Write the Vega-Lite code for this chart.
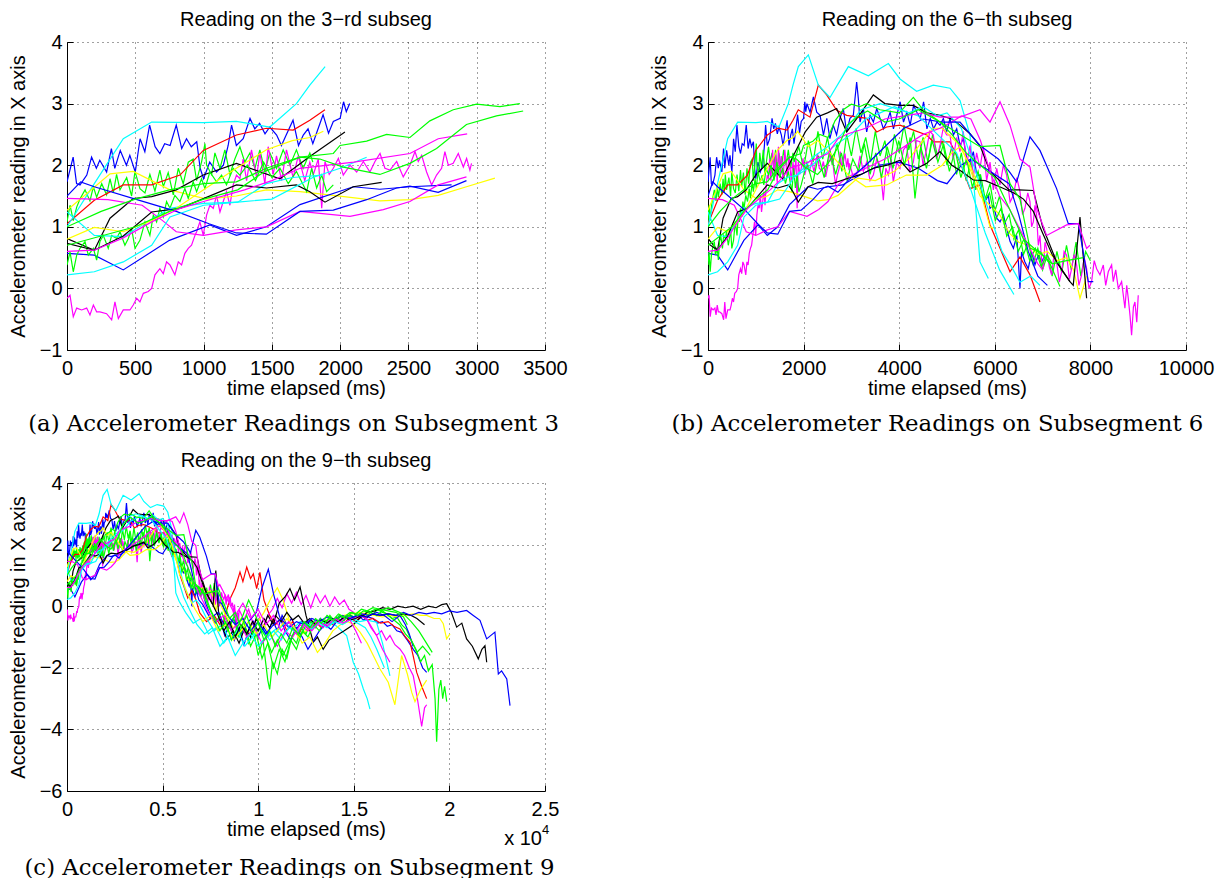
{
"$schema":"https://vega.github.io/schema/vega-lite/v6.json",
"background":"white",
"padding":{"left":8,"top":10,"right":5,"bottom":2},
"config":{
 "view":{"stroke":null},
 "font":"Liberation Sans",
 "title":{"font":"Liberation Sans","fontSize":20,"fontWeight":"normal","color":"#000000","frame":"group","anchor":"middle"},
 "axis":{"domainColor":"#000000","domainWidth":1,"tickColor":"#000000","tickWidth":1,"tickSize":-6,"labelFont":"Liberation Sans","labelFontSize":20,"labelColor":"#000000","titleFont":"Liberation Sans","titleFontSize":20,"titleFontWeight":"normal","titleColor":"#000000","grid":true,"gridColor":"#000000","gridOpacity":0.75,"gridDash":[1,4],"gridWidth":1,"labelFlush":false,"labelOverlap":false},
 "axisX":{"labelPadding":14,"titleBaseline":"alphabetic","titleY":44,"titleX":239},
 "axisY":{"labelPadding":11,"titleBaseline":"alphabetic","titleX":-43,"titleY":154}
},
"datasets":{
"ends":[
{"r":"B1","e3":2070,"e6":7050},{"r":"B2","e3":2816,"e6":7100},{"r":"B3","e3":2925,"e6":8060},
{"r":"G1","e3":1800,"e6":8000},{"r":"G2","e3":1950,"e6":7200},{"r":"G3","e3":3316,"e6":7363},{"r":"G4","e3":3340,"e6":7850},
{"r":"R1","e3":1889,"e6":6945},
{"r":"C1","e3":1890,"e6":5865},{"r":"C2","e3":1870,"e6":6944},{"r":"C3","e3":2194,"e6":6400},
{"r":"M1","e3":2962,"e6":9001},{"r":"M2","e3":2925,"e6":7000},{"r":"M3","e3":2930,"e6":7990},
{"r":"Y1","e3":3133,"e6":7921},{"r":"Y2","e3":1877,"e6":5969},
{"r":"K1","e3":2035,"e6":7921},{"r":"K2","e3":2304,"e6":7572}
],
"runs":[
{"r":"B1","t":0,"v":1.73},{"r":"B1","t":45,"v":2.13},{"r":"B1","t":70,"v":1.70},{"r":"B1","t":95,"v":1.68},{"r":"B1","t":145,"v":1.84},{"r":"B1","t":180,"v":2.13},{"r":"B1","t":215,"v":1.95},{"r":"B1","t":240,"v":2.08},{"r":"B1","t":290,"v":1.89},{"r":"B1","t":325,"v":2.27},{"r":"B1","t":350,"v":1.95},{"r":"B1","t":390,"v":2.24},{"r":"B1","t":435,"v":2.00},{"r":"B1","t":460,"v":2.16},{"r":"B1","t":500,"v":1.89},{"r":"B1","t":535,"v":2.43},{"r":"B1","t":570,"v":2.22},{"r":"B1","t":605,"v":2.65},{"r":"B1","t":645,"v":2.30},{"r":"B1","t":680,"v":2.19},{"r":"B1","t":715,"v":2.35},{"r":"B1","t":755,"v":2.32},{"r":"B1","t":800,"v":2.65},{"r":"B1","t":840,"v":2.27},{"r":"B1","t":875,"v":2.43},{"r":"B1","t":910,"v":2.30},{"r":"B1","t":950,"v":2.38},{"r":"B1","t":975,"v":1.95},{"r":"B1","t":1000,"v":1.78},{"r":"B1","t":1045,"v":2.05},{"r":"B1","t":1095,"v":1.89},{"r":"B1","t":1145,"v":2.00},{"r":"B1","t":1180,"v":2.32},{"r":"B1","t":1205,"v":2.65},{"r":"B1","t":1240,"v":2.32},{"r":"B1","t":1290,"v":2.43},{"r":"B1","t":1340,"v":2.76},{"r":"B1","t":1375,"v":2.59},{"r":"B1","t":1410,"v":2.68},{"r":"B1","t":1450,"v":2.51},{"r":"B1","t":1485,"v":2.62},{"r":"B1","t":1535,"v":2.49},{"r":"B1","t":1570,"v":2.32},{"r":"B1","t":1605,"v":2.49},{"r":"B1","t":1655,"v":2.73},{"r":"B1","t":1695,"v":2.32},{"r":"B1","t":1730,"v":2.49},{"r":"B1","t":1765,"v":2.59},{"r":"B1","t":1800,"v":2.35},{"r":"B1","t":1830,"v":2.54},{"r":"B1","t":1875,"v":2.82},{"r":"B1","t":1915,"v":2.52},{"r":"B1","t":1950,"v":2.71},{"r":"B1","t":2000,"v":2.76},{"r":"B1","t":2025,"v":3.03},{"r":"B1","t":2045,"v":2.87},{"r":"B1","t":2070,"v":3.00},
{"r":"B1","t":2135,"v":2.86},{"r":"B1","t":2205,"v":3.11},{"r":"B1","t":2275,"v":2.86},{"r":"B1","t":2345,"v":2.81},{"r":"B1","t":2415,"v":2.49},{"r":"B1","t":2485,"v":2.76},{"r":"B1","t":2550,"v":2.43},{"r":"B1","t":2620,"v":2.65},{"r":"B1","t":2690,"v":2.49},{"r":"B1","t":2760,"v":2.76},{"r":"B1","t":2830,"v":2.92},{"r":"B1","t":2900,"v":2.54},{"r":"B1","t":2970,"v":2.76},{"r":"B1","t":3040,"v":2.81},{"r":"B1","t":3110,"v":3.35},{"r":"B1","t":3145,"v":3.08},{"r":"B1","t":3180,"v":2.70},{"r":"B1","t":3250,"v":2.92},{"r":"B1","t":3320,"v":2.54},{"r":"B1","t":3390,"v":2.81},{"r":"B1","t":3460,"v":2.70},{"r":"B1","t":3530,"v":2.92},{"r":"B1","t":3600,"v":2.76},{"r":"B1","t":3670,"v":2.59},{"r":"B1","t":3740,"v":2.70},{"r":"B1","t":3810,"v":2.86},{"r":"B1","t":3880,"v":2.59},{"r":"B1","t":3950,"v":2.81},{"r":"B1","t":4020,"v":3.03},{"r":"B1","t":4090,"v":2.70},{"r":"B1","t":4160,"v":2.86},{"r":"B1","t":4230,"v":2.65},{"r":"B1","t":4300,"v":2.97},{"r":"B1","t":4370,"v":2.86},{"r":"B1","t":4440,"v":2.76},{"r":"B1","t":4510,"v":3.03},{"r":"B1","t":4580,"v":2.59},{"r":"B1","t":4650,"v":2.76},{"r":"B1","t":4720,"v":2.59},{"r":"B1","t":4790,"v":2.70},{"r":"B1","t":4854,"v":2.65},{"r":"B1","t":4924,"v":2.76},{"r":"B1","t":4993,"v":2.54},{"r":"B1","t":5063,"v":2.76},{"r":"B1","t":5133,"v":2.49},{"r":"B1","t":5203,"v":2.59},{"r":"B1","t":5272,"v":2.32},{"r":"B1","t":5342,"v":2.43},{"r":"B1","t":5412,"v":2.11},{"r":"B1","t":5481,"v":2.05},{"r":"B1","t":5551,"v":2.22},{"r":"B1","t":5621,"v":1.84},{"r":"B1","t":5690,"v":1.84},{"r":"B1","t":5725,"v":1.57},{"r":"B1","t":5795,"v":1.41},{"r":"B1","t":5865,"v":1.51},{"r":"B1","t":5900,"v":1.30},{"r":"B1","t":5970,"v":1.35},{"r":"B1","t":6040,"v":1.14},{"r":"B1","t":6110,"v":1.08},{"r":"B1","t":6180,"v":1.19},{"r":"B1","t":6250,"v":0.97},{"r":"B1","t":6320,"v":0.76},{"r":"B1","t":6390,"v":0.65},{"r":"B1","t":6460,"v":0.86},{"r":"B1","t":6527,"v":0.00},{"r":"B1","t":6560,"v":0.59},{"r":"B1","t":6630,"v":0.43},{"r":"B1","t":6700,"v":0.32},{"r":"B1","t":6770,"v":0.59},{"r":"B1","t":6840,"v":0.38},{"r":"B1","t":6910,"v":0.54},{"r":"B1","t":6980,"v":0.43},{"r":"B1","t":7050,"v":0.54},
{"r":"B1","t":7250,"v":0.10},{"r":"B1","t":7500,"v":-0.30},{"r":"B1","t":7750,"v":-0.55},{"r":"B1","t":8000,"v":-0.40},{"r":"B1","t":8250,"v":-0.95},{"r":"B1","t":8500,"v":-0.60},{"r":"B1","t":8750,"v":-1.10},{"r":"B1","t":9000,"v":-0.70},{"r":"B1","t":9250,"v":-1.25},{"r":"B1","t":9500,"v":-0.80},{"r":"B1","t":9750,"v":-0.50},{"r":"B1","t":10000,"v":-1.00},{"r":"B1","t":10250,"v":-0.65},{"r":"B1","t":10500,"v":-0.90},{"r":"B1","t":10750,"v":-0.45},{"r":"B1","t":11000,"v":-0.80},{"r":"B1","t":11250,"v":-0.30},{"r":"B1","t":11500,"v":-0.60},{"r":"B1","t":11750,"v":-0.40},{"r":"B1","t":12000,"v":-0.75},{"r":"B1","t":12250,"v":-0.50},{"r":"B1","t":12500,"v":-0.65},{"r":"B1","t":12750,"v":-0.45},{"r":"B1","t":13000,"v":-0.60},{"r":"B1","t":13250,"v":-0.40},{"r":"B1","t":13500,"v":-0.55},{"r":"B1","t":13750,"v":-0.35},{"r":"B1","t":14000,"v":-0.50},{"r":"B1","t":14250,"v":-0.30},{"r":"B1","t":14500,"v":-0.45},{"r":"B1","t":14750,"v":-0.25},{"r":"B1","t":15000,"v":-0.40},{"r":"B1","t":15250,"v":-0.30},{"r":"B1","t":15500,"v":-0.45},{"r":"B1","t":15750,"v":-0.35},{"r":"B1","t":16000,"v":-0.40},{"r":"B1","t":16250,"v":-0.55},{"r":"B1","t":16500,"v":-0.50},{"r":"B1","t":16750,"v":-0.65},{"r":"B1","t":17000,"v":-0.60},{"r":"B1","t":17250,"v":-0.80},{"r":"B1","t":17500,"v":-0.85},{"r":"B1","t":17800,"v":-1.10},{"r":"B1","t":18110,"v":-1.40},{"r":"B1","t":18350,"v":-1.60},{"r":"B1","t":18600,"v":-2.00},{"r":"B1","t":18810,"v":-2.15},

{"r":"G1","t":0,"v":1.08},{"r":"G1","t":22,"v":1.35},{"r":"G1","t":46,"v":1.10},{"r":"G1","t":71,"v":1.32},{"r":"G1","t":95,"v":1.45},{"r":"G1","t":132,"v":1.60},{"r":"G1","t":168,"v":1.42},{"r":"G1","t":193,"v":1.65},{"r":"G1","t":217,"v":1.48},{"r":"G1","t":254,"v":1.70},{"r":"G1","t":290,"v":1.52},{"r":"G1","t":315,"v":1.78},{"r":"G1","t":339,"v":1.55},{"r":"G1","t":363,"v":1.85},{"r":"G1","t":388,"v":1.60},{"r":"G1","t":437,"v":1.80},{"r":"G1","t":473,"v":1.50},{"r":"G1","t":498,"v":1.90},{"r":"G1","t":534,"v":1.62},{"r":"G1","t":571,"v":1.55},{"r":"G1","t":607,"v":1.85},{"r":"G1","t":644,"v":1.58},{"r":"G1","t":680,"v":1.92},{"r":"G1","t":705,"v":1.65},{"r":"G1","t":741,"v":1.88},{"r":"G1","t":778,"v":1.52},{"r":"G1","t":815,"v":1.95},{"r":"G1","t":851,"v":1.70},{"r":"G1","t":888,"v":2.05},{"r":"G1","t":924,"v":2.10},{"r":"G1","t":949,"v":1.75},{"r":"G1","t":985,"v":2.05},{"r":"G1","t":1010,"v":2.35},{"r":"G1","t":1022,"v":2.00},{"r":"G1","t":1059,"v":1.85},{"r":"G1","t":1083,"v":2.20},{"r":"G1","t":1120,"v":1.95},{"r":"G1","t":1156,"v":2.25},{"r":"G1","t":1193,"v":1.85},{"r":"G1","t":1229,"v":2.10},{"r":"G1","t":1266,"v":2.30},{"r":"G1","t":1302,"v":2.05},{"r":"G1","t":1339,"v":2.20},{"r":"G1","t":1376,"v":1.95},{"r":"G1","t":1412,"v":2.25},{"r":"G1","t":1449,"v":1.90},{"r":"G1","t":1485,"v":2.20},{"r":"G1","t":1534,"v":1.95},{"r":"G1","t":1583,"v":2.25},{"r":"G1","t":1632,"v":2.00},{"r":"G1","t":1680,"v":2.25},{"r":"G1","t":1729,"v":1.95},{"r":"G1","t":1778,"v":2.20},{"r":"G1","t":1800,"v":2.05},
{"r":"G1","t":1900,"v":2.30},{"r":"G1","t":2000,"v":1.95},{"r":"G1","t":2100,"v":2.40},{"r":"G1","t":2200,"v":2.05},{"r":"G1","t":2300,"v":2.55},{"r":"G1","t":2400,"v":2.10},{"r":"G1","t":2500,"v":2.45},{"r":"G1","t":2600,"v":2.00},{"r":"G1","t":2700,"v":2.35},{"r":"G1","t":2800,"v":1.90},{"r":"G1","t":2900,"v":2.50},{"r":"G1","t":3000,"v":2.15},{"r":"G1","t":3100,"v":2.60},{"r":"G1","t":3200,"v":2.20},{"r":"G1","t":3300,"v":2.45},{"r":"G1","t":3400,"v":2.05},{"r":"G1","t":3500,"v":2.55},{"r":"G1","t":3600,"v":2.15},{"r":"G1","t":3700,"v":2.40},{"r":"G1","t":3800,"v":1.95},{"r":"G1","t":3900,"v":2.50},{"r":"G1","t":4000,"v":2.20},{"r":"G1","t":4100,"v":2.65},{"r":"G1","t":4200,"v":2.25},{"r":"G1","t":4300,"v":2.55},{"r":"G1","t":4400,"v":2.10},{"r":"G1","t":4500,"v":2.45},{"r":"G1","t":4600,"v":2.05},{"r":"G1","t":4700,"v":2.50},{"r":"G1","t":4800,"v":2.15},{"r":"G1","t":4900,"v":2.40},{"r":"G1","t":5000,"v":2.00},{"r":"G1","t":5100,"v":2.30},{"r":"G1","t":5200,"v":1.85},{"r":"G1","t":5300,"v":2.20},{"r":"G1","t":5400,"v":1.75},{"r":"G1","t":5500,"v":2.05},{"r":"G1","t":5600,"v":1.60},{"r":"G1","t":5700,"v":1.85},{"r":"G1","t":5800,"v":1.45},{"r":"G1","t":5900,"v":1.70},{"r":"G1","t":6000,"v":1.25},{"r":"G1","t":6100,"v":1.50},{"r":"G1","t":6200,"v":1.05},{"r":"G1","t":6300,"v":1.20},{"r":"G1","t":6400,"v":0.80},{"r":"G1","t":6500,"v":0.95},{"r":"G1","t":6600,"v":0.55},{"r":"G1","t":6700,"v":0.75},{"r":"G1","t":6800,"v":0.40},{"r":"G1","t":6900,"v":0.65},{"r":"G1","t":7000,"v":0.30},{"r":"G1","t":7100,"v":0.55},{"r":"G1","t":7200,"v":0.20},{"r":"G1","t":7300,"v":0.60},{"r":"G1","t":7400,"v":0.25},{"r":"G1","t":7500,"v":0.70},{"r":"G1","t":7600,"v":0.30},{"r":"G1","t":7700,"v":0.75},{"r":"G1","t":7800,"v":0.20},{"r":"G1","t":7900,"v":0.60},{"r":"G1","t":8000,"v":0.45},
{"r":"G1","t":8250,"v":-0.20},{"r":"G1","t":8500,"v":-0.70},{"r":"G1","t":8750,"v":-0.30},{"r":"G1","t":9000,"v":-0.90},{"r":"G1","t":9250,"v":-0.50},{"r":"G1","t":9500,"v":-1.20},{"r":"G1","t":9750,"v":-0.80},{"r":"G1","t":10000,"v":-1.60},{"r":"G1","t":10250,"v":-1.10},{"r":"G1","t":10500,"v":-2.40},{"r":"G1","t":10600,"v":-2.70},{"r":"G1","t":10750,"v":-1.80},{"r":"G1","t":11000,"v":-2.20},{"r":"G1","t":11250,"v":-1.40},{"r":"G1","t":11500,"v":-1.70},{"r":"G1","t":11750,"v":-1.00},{"r":"G1","t":12000,"v":-1.20},{"r":"G1","t":12250,"v":-0.70},{"r":"G1","t":12500,"v":-0.90},{"r":"G1","t":12750,"v":-0.50},{"r":"G1","t":13000,"v":-0.70},{"r":"G1","t":13250,"v":-0.40},{"r":"G1","t":13500,"v":-0.60},{"r":"G1","t":13750,"v":-0.30},{"r":"G1","t":14000,"v":-0.50},{"r":"G1","t":14250,"v":-0.30},{"r":"G1","t":14500,"v":-0.45},{"r":"G1","t":14750,"v":-0.25},{"r":"G1","t":15000,"v":-0.35},{"r":"G1","t":15250,"v":-0.20},{"r":"G1","t":15500,"v":-0.30},{"r":"G1","t":15750,"v":-0.15},{"r":"G1","t":16000,"v":-0.25},{"r":"G1","t":16250,"v":-0.10},{"r":"G1","t":16500,"v":-0.20},{"r":"G1","t":16750,"v":-0.25},{"r":"G1","t":17000,"v":-0.40},{"r":"G1","t":17250,"v":-0.35},{"r":"G1","t":17500,"v":-0.60},{"r":"G1","t":17750,"v":-0.75},{"r":"G1","t":18000,"v":-1.10},{"r":"G1","t":18250,"v":-1.40},{"r":"G1","t":18500,"v":-1.80},{"r":"G1","t":18700,"v":-1.60},{"r":"G1","t":18900,"v":-2.10},{"r":"G1","t":19100,"v":-1.90},{"r":"G1","t":19250,"v":-3.00},{"r":"G1","t":19333,"v":-4.40},{"r":"G1","t":19450,"v":-2.70},{"r":"G1","t":19550,"v":-2.40},{"r":"G1","t":19650,"v":-3.00},{"r":"G1","t":19750,"v":-2.60},{"r":"G1","t":19860,"v":-3.10},

{"r":"R1","t":0,"v":1.05},{"r":"R1","t":200,"v":1.43},{"r":"R1","t":412,"v":1.68},{"r":"R1","t":620,"v":1.68},{"r":"R1","t":827,"v":1.84},{"r":"R1","t":998,"v":2.24},{"r":"R1","t":1241,"v":2.49},{"r":"R1","t":1460,"v":2.60},{"r":"R1","t":1656,"v":2.57},{"r":"R1","t":1778,"v":2.73},{"r":"R1","t":1889,"v":2.90},{"r":"R1","t":2134,"v":2.78},{"r":"R1","t":2308,"v":3.30},{"r":"R1","t":2483,"v":3.14},{"r":"R1","t":2692,"v":2.89},{"r":"R1","t":2901,"v":2.81},{"r":"R1","t":3319,"v":2.76},{"r":"R1","t":3529,"v":2.54},{"r":"R1","t":3738,"v":2.62},{"r":"R1","t":4017,"v":2.65},{"r":"R1","t":4296,"v":2.57},{"r":"R1","t":4575,"v":2.49},{"r":"R1","t":4714,"v":2.38},{"r":"R1","t":5063,"v":2.38},{"r":"R1","t":5272,"v":2.05},{"r":"R1","t":5481,"v":1.62},{"r":"R1","t":5690,"v":1.68},{"r":"R1","t":5900,"v":1.03},{"r":"R1","t":6109,"v":0.65},{"r":"R1","t":6318,"v":0.27},{"r":"R1","t":6527,"v":0.51},{"r":"R1","t":6736,"v":0.22},{"r":"R1","t":6945,"v":-0.22},{"r":"R1","t":7300,"v":-0.50},{"r":"R1","t":7700,"v":-0.30},{"r":"R1","t":8100,"v":-0.70},{"r":"R1","t":8500,"v":0.20},{"r":"R1","t":8800,"v":0.60},{"r":"R1","t":9048,"v":1.11},{"r":"R1","t":9200,"v":0.80},{"r":"R1","t":9400,"v":1.27},{"r":"R1","t":9600,"v":0.90},{"r":"R1","t":9745,"v":1.05},{"r":"R1","t":9920,"v":0.57},{"r":"R1","t":10090,"v":1.10},{"r":"R1","t":10300,"v":0.20},{"r":"R1","t":10600,"v":-0.30},{"r":"R1","t":10900,"v":-0.60},{"r":"R1","t":11200,"v":-0.40},{"r":"R1","t":11500,"v":-0.80},{"r":"R1","t":11800,"v":-0.50},{"r":"R1","t":12100,"v":-0.90},{"r":"R1","t":12400,"v":-0.60},{"r":"R1","t":12700,"v":-0.80},{"r":"R1","t":13000,"v":-0.50},{"r":"R1","t":13300,"v":-0.70},{"r":"R1","t":13600,"v":-0.45},{"r":"R1","t":13900,"v":-0.60},{"r":"R1","t":14200,"v":-0.40},{"r":"R1","t":14500,"v":-0.55},{"r":"R1","t":14800,"v":-0.35},{"r":"R1","t":15100,"v":-0.50},{"r":"R1","t":15400,"v":-0.30},{"r":"R1","t":15700,"v":-0.45},{"r":"R1","t":16000,"v":-0.40},{"r":"R1","t":16400,"v":-0.55},{"r":"R1","t":16800,"v":-0.50},{"r":"R1","t":17100,"v":-0.65},{"r":"R1","t":17410,"v":-0.74},{"r":"R1","t":17700,"v":-1.00},{"r":"R1","t":17940,"v":-1.17},{"r":"R1","t":18100,"v":-1.60},{"r":"R1","t":18290,"v":-2.15},{"r":"R1","t":18550,"v":-2.60},{"r":"R1","t":18810,"v":-3.00},

{"r":"C1","t":0,"v":1.00},{"r":"C1","t":200,"v":1.70},{"r":"C1","t":412,"v":2.43},{"r":"C1","t":620,"v":2.70},{"r":"C1","t":1000,"v":2.69},{"r":"C1","t":1240,"v":2.71},{"r":"C1","t":1485,"v":2.62},{"r":"C1","t":1680,"v":3.00},{"r":"C1","t":1778,"v":3.30},{"r":"C1","t":1890,"v":3.60},{"r":"C1","t":2099,"v":3.79},{"r":"C1","t":2308,"v":3.30},{"r":"C1","t":2552,"v":3.10},{"r":"C1","t":2936,"v":3.60},{"r":"C1","t":3354,"v":3.45},{"r":"C1","t":3773,"v":3.65},{"r":"C1","t":4017,"v":3.40},{"r":"C1","t":4365,"v":3.20},{"r":"C1","t":4714,"v":3.30},{"r":"C1","t":5063,"v":3.25},{"r":"C1","t":5272,"v":3.05},{"r":"C1","t":5481,"v":2.49},{"r":"C1","t":5690,"v":0.43},{"r":"C1","t":5865,"v":0.16},{"r":"C1","t":6200,"v":-0.20},{"r":"C1","t":6600,"v":-0.55},{"r":"C1","t":7000,"v":-0.40},{"r":"C1","t":7400,"v":-0.90},{"r":"C1","t":7800,"v":-0.70},{"r":"C1","t":8200,"v":-1.20},{"r":"C1","t":8600,"v":-0.85},{"r":"C1","t":9000,"v":-1.00},{"r":"C1","t":9400,"v":-0.60},{"r":"C1","t":9800,"v":-0.95},{"r":"C1","t":10200,"v":-0.70},{"r":"C1","t":10600,"v":-1.10},{"r":"C1","t":11000,"v":-0.80},{"r":"C1","t":11400,"v":-0.55},{"r":"C1","t":11800,"v":-0.75},{"r":"C1","t":12200,"v":-0.50},{"r":"C1","t":12600,"v":-0.70},{"r":"C1","t":13000,"v":-0.45},{"r":"C1","t":13400,"v":-0.60},{"r":"C1","t":13800,"v":-0.50},{"r":"C1","t":14200,"v":-0.70},{"r":"C1","t":14625,"v":-0.95},{"r":"C1","t":14970,"v":-1.82},{"r":"C1","t":15250,"v":-2.20},{"r":"C1","t":15500,"v":-2.69},{"r":"C1","t":15700,"v":-3.00},{"r":"C1","t":15845,"v":-3.34},

{"r":"M1","t":0,"v":-0.16},{"r":"M1","t":22,"v":-0.11},{"r":"M1","t":46,"v":-0.46},{"r":"M1","t":71,"v":-0.32},{"r":"M1","t":107,"v":-0.35},{"r":"M1","t":144,"v":-0.32},{"r":"M1","t":168,"v":-0.43},{"r":"M1","t":193,"v":-0.27},{"r":"M1","t":217,"v":-0.38},{"r":"M1","t":241,"v":-0.38},{"r":"M1","t":290,"v":-0.41},{"r":"M1","t":327,"v":-0.51},{"r":"M1","t":351,"v":-0.22},{"r":"M1","t":376,"v":-0.49},{"r":"M1","t":412,"v":-0.35},{"r":"M1","t":461,"v":-0.35},{"r":"M1","t":485,"v":-0.27},{"r":"M1","t":510,"v":-0.16},{"r":"M1","t":534,"v":-0.22},{"r":"M1","t":559,"v":-0.08},{"r":"M1","t":595,"v":-0.05},{"r":"M1","t":620,"v":0.00},{"r":"M1","t":644,"v":0.22},{"r":"M1","t":680,"v":0.32},{"r":"M1","t":705,"v":0.24},{"r":"M1","t":729,"v":0.43},{"r":"M1","t":754,"v":0.38},{"r":"M1","t":790,"v":0.22},{"r":"M1","t":815,"v":0.43},{"r":"M1","t":839,"v":0.38},{"r":"M1","t":863,"v":0.57},{"r":"M1","t":888,"v":0.65},{"r":"M1","t":912,"v":0.70},{"r":"M1","t":937,"v":0.86},{"r":"M1","t":949,"v":0.92},{"r":"M1","t":973,"v":1.08},{"r":"M1","t":998,"v":0.86},{"r":"M1","t":1022,"v":1.19},{"r":"M1","t":1046,"v":1.35},{"r":"M1","t":1071,"v":1.30},{"r":"M1","t":1095,"v":1.51},{"r":"M1","t":1120,"v":1.24},{"r":"M1","t":1144,"v":1.41},{"r":"M1","t":1168,"v":1.57},{"r":"M1","t":1193,"v":1.35},{"r":"M1","t":1217,"v":1.68},{"r":"M1","t":1241,"v":1.84},{"r":"M1","t":1266,"v":1.78},{"r":"M1","t":1290,"v":2.10},{"r":"M1","t":1315,"v":1.75},{"r":"M1","t":1351,"v":2.25},{"r":"M1","t":1388,"v":1.80},{"r":"M1","t":1412,"v":2.20},{"r":"M1","t":1449,"v":1.70},{"r":"M1","t":1473,"v":2.30},{"r":"M1","t":1510,"v":1.85},{"r":"M1","t":1534,"v":2.15},{"r":"M1","t":1571,"v":1.75},{"r":"M1","t":1607,"v":2.25},{"r":"M1","t":1656,"v":1.80},{"r":"M1","t":1693,"v":2.15},{"r":"M1","t":1741,"v":1.75},{"r":"M1","t":1778,"v":2.05},{"r":"M1","t":1804,"v":1.85},{"r":"M1","t":1840,"v":2.10},{"r":"M1","t":1865,"v":1.30},{"r":"M1","t":1889,"v":2.06},{"r":"M1","t":1920,"v":1.85},{"r":"M1","t":1950,"v":1.95},{"r":"M1","t":1987,"v":2.11},{"r":"M1","t":2023,"v":1.84},{"r":"M1","t":2072,"v":2.00},{"r":"M1","t":2121,"v":1.89},{"r":"M1","t":2170,"v":2.06},{"r":"M1","t":2218,"v":1.89},{"r":"M1","t":2255,"v":2.06},{"r":"M1","t":2292,"v":2.19},{"r":"M1","t":2328,"v":1.95},{"r":"M1","t":2365,"v":1.92},{"r":"M1","t":2414,"v":2.06},{"r":"M1","t":2462,"v":1.81},{"r":"M1","t":2511,"v":2.00},{"r":"M1","t":2548,"v":2.22},{"r":"M1","t":2572,"v":2.06},{"r":"M1","t":2597,"v":2.16},{"r":"M1","t":2633,"v":1.89},{"r":"M1","t":2670,"v":1.68},{"r":"M1","t":2706,"v":1.84},{"r":"M1","t":2743,"v":1.95},{"r":"M1","t":2767,"v":2.22},{"r":"M1","t":2792,"v":2.00},{"r":"M1","t":2828,"v":2.03},{"r":"M1","t":2865,"v":2.19},{"r":"M1","t":2902,"v":1.97},{"r":"M1","t":2926,"v":2.11},{"r":"M1","t":2950,"v":1.92},{"r":"M1","t":2962,"v":2.03},
{"r":"M1","t":3040,"v":1.80},{"r":"M1","t":3110,"v":1.84},{"r":"M1","t":3180,"v":2.15},{"r":"M1","t":3250,"v":1.90},{"r":"M1","t":3319,"v":2.05},{"r":"M1","t":3390,"v":1.75},{"r":"M1","t":3459,"v":1.84},{"r":"M1","t":3530,"v":2.10},{"r":"M1","t":3598,"v":2.00},{"r":"M1","t":3668,"v":1.43},{"r":"M1","t":3720,"v":1.95},{"r":"M1","t":3773,"v":1.84},{"r":"M1","t":3830,"v":2.10},{"r":"M1","t":3877,"v":1.73},{"r":"M1","t":3950,"v":2.05},{"r":"M1","t":4017,"v":1.95},{"r":"M1","t":4090,"v":2.25},{"r":"M1","t":4156,"v":2.32},{"r":"M1","t":4220,"v":1.90},{"r":"M1","t":4296,"v":2.05},{"r":"M1","t":4360,"v":2.40},{"r":"M1","t":4435,"v":2.38},{"r":"M1","t":4500,"v":2.00},{"r":"M1","t":4575,"v":2.27},{"r":"M1","t":4640,"v":2.55},{"r":"M1","t":4714,"v":2.49},{"r":"M1","t":4780,"v":2.10},{"r":"M1","t":4854,"v":2.32},{"r":"M1","t":4920,"v":2.60},{"r":"M1","t":4993,"v":2.49},{"r":"M1","t":5063,"v":2.49},{"r":"M1","t":5130,"v":2.10},{"r":"M1","t":5200,"v":2.45},{"r":"M1","t":5272,"v":2.22},{"r":"M1","t":5340,"v":2.55},{"r":"M1","t":5410,"v":2.00},{"r":"M1","t":5481,"v":2.32},{"r":"M1","t":5550,"v":1.80},{"r":"M1","t":5620,"v":2.20},{"r":"M1","t":5690,"v":1.95},{"r":"M1","t":5760,"v":2.30},{"r":"M1","t":5830,"v":1.75},{"r":"M1","t":5900,"v":2.05},{"r":"M1","t":5970,"v":1.60},{"r":"M1","t":6040,"v":1.95},{"r":"M1","t":6109,"v":1.68},{"r":"M1","t":6180,"v":2.00},{"r":"M1","t":6248,"v":1.84},{"r":"M1","t":6320,"v":1.40},{"r":"M1","t":6388,"v":1.51},{"r":"M1","t":6460,"v":1.80},{"r":"M1","t":6527,"v":1.57},{"r":"M1","t":6580,"v":1.20},{"r":"M1","t":6631,"v":1.30},{"r":"M1","t":6690,"v":1.55},{"r":"M1","t":6736,"v":1.41},{"r":"M1","t":6770,"v":1.00},{"r":"M1","t":6806,"v":1.08},{"r":"M1","t":6840,"v":1.35},{"r":"M1","t":6875,"v":1.19},{"r":"M1","t":6910,"v":0.70},{"r":"M1","t":6945,"v":0.86},{"r":"M1","t":6980,"v":0.45},{"r":"M1","t":7015,"v":0.32},{"r":"M1","t":7050,"v":0.75},{"r":"M1","t":7084,"v":0.65},{"r":"M1","t":7140,"v":0.35},{"r":"M1","t":7189,"v":0.22},{"r":"M1","t":7240,"v":0.55},{"r":"M1","t":7293,"v":0.43},{"r":"M1","t":7350,"v":0.10},{"r":"M1","t":7398,"v":0.27},{"r":"M1","t":7450,"v":0.60},{"r":"M1","t":7503,"v":0.54},{"r":"M1","t":7560,"v":0.15},{"r":"M1","t":7607,"v":0.32},{"r":"M1","t":7660,"v":0.55},{"r":"M1","t":7712,"v":0.38},{"r":"M1","t":7760,"v":0.05},{"r":"M1","t":7816,"v":0.22},{"r":"M1","t":7870,"v":0.50},{"r":"M1","t":7921,"v":0.32},{"r":"M1","t":7970,"v":0.00},{"r":"M1","t":8025,"v":0.11},{"r":"M1","t":8080,"v":0.45},{"r":"M1","t":8130,"v":0.32},{"r":"M1","t":8200,"v":0.22},{"r":"M1","t":8270,"v":0.38},{"r":"M1","t":8320,"v":0.05},{"r":"M1","t":8374,"v":0.27},{"r":"M1","t":8444,"v":0.38},{"r":"M1","t":8478,"v":0.11},{"r":"M1","t":8530,"v":0.30},{"r":"M1","t":8583,"v":0.00},{"r":"M1","t":8653,"v":0.11},{"r":"M1","t":8722,"v":-0.32},{"r":"M1","t":8760,"v":0.05},{"r":"M1","t":8792,"v":-0.16},{"r":"M1","t":8830,"v":-0.45},{"r":"M1","t":8862,"v":-0.76},{"r":"M1","t":8900,"v":-0.30},{"r":"M1","t":8932,"v":-0.22},{"r":"M1","t":8970,"v":-0.55},{"r":"M1","t":9001,"v":-0.11},
{"r":"M1","t":9250,"v":-0.45},{"r":"M1","t":9500,"v":-0.10},{"r":"M1","t":9750,"v":-0.60},{"r":"M1","t":10000,"v":-0.25},{"r":"M1","t":10250,"v":-0.70},{"r":"M1","t":10500,"v":-0.30},{"r":"M1","t":10750,"v":-0.10},{"r":"M1","t":11000,"v":0.25},{"r":"M1","t":11250,"v":-0.05},{"r":"M1","t":11500,"v":0.40},{"r":"M1","t":11750,"v":0.10},{"r":"M1","t":12000,"v":0.45},{"r":"M1","t":12250,"v":0.05},{"r":"M1","t":12500,"v":0.35},{"r":"M1","t":12750,"v":-0.05},{"r":"M1","t":13000,"v":0.40},{"r":"M1","t":13250,"v":0.10},{"r":"M1","t":13500,"v":0.35},{"r":"M1","t":13750,"v":0.00},{"r":"M1","t":14000,"v":0.30},{"r":"M1","t":14250,"v":0.05},{"r":"M1","t":14500,"v":0.20},{"r":"M1","t":14750,"v":-0.10},{"r":"M1","t":15000,"v":-0.20},{"r":"M1","t":15250,"v":-0.35},{"r":"M1","t":15500,"v":-0.25},{"r":"M1","t":15670,"v":-0.41},{"r":"M1","t":15900,"v":-0.70},{"r":"M1","t":16190,"v":-0.95},{"r":"M1","t":16450,"v":-0.80},{"r":"M1","t":16700,"v":-1.10},{"r":"M1","t":16890,"v":-0.95},{"r":"M1","t":17150,"v":-1.25},{"r":"M1","t":17410,"v":-1.39},{"r":"M1","t":17650,"v":-1.60},{"r":"M1","t":17900,"v":-2.00},{"r":"M1","t":18110,"v":-2.26},{"r":"M1","t":18300,"v":-2.90},{"r":"M1","t":18550,"v":-3.90},{"r":"M1","t":18700,"v":-3.30},{"r":"M1","t":18810,"v":-3.20},

{"r":"Y1","t":0,"v":1.27},{"r":"Y1","t":150,"v":1.55},{"r":"Y1","t":315,"v":1.86},{"r":"Y1","t":485,"v":1.90},{"r":"Y1","t":754,"v":1.60},{"r":"Y1","t":1022,"v":1.45},{"r":"Y1","t":1240,"v":1.50},{"r":"Y1","t":1460,"v":1.60},{"r":"Y1","t":1706,"v":1.57},{"r":"Y1","t":1950,"v":1.51},{"r":"Y1","t":2291,"v":1.42},{"r":"Y1","t":2511,"v":1.44},{"r":"Y1","t":2718,"v":1.51},{"r":"Y1","t":2925,"v":1.65},{"r":"Y1","t":3133,"v":1.79},{"r":"Y1","t":3500,"v":1.75},{"r":"Y1","t":3900,"v":1.90},{"r":"Y1","t":4200,"v":2.10},{"r":"Y1","t":4400,"v":2.30},{"r":"Y1","t":4700,"v":2.60},{"r":"Y1","t":4900,"v":2.60},{"r":"Y1","t":5100,"v":2.45},{"r":"Y1","t":5300,"v":2.30},{"r":"Y1","t":5500,"v":1.90},{"r":"Y1","t":5690,"v":1.50},{"r":"Y1","t":5900,"v":1.35},{"r":"Y1","t":6100,"v":1.20},{"r":"Y1","t":6300,"v":0.90},{"r":"Y1","t":6500,"v":0.75},{"r":"Y1","t":6700,"v":0.70},{"r":"Y1","t":6900,"v":0.55},{"r":"Y1","t":7100,"v":0.60},{"r":"Y1","t":7300,"v":0.45},{"r":"Y1","t":7500,"v":0.50},{"r":"Y1","t":7650,"v":0.30},{"r":"Y1","t":7782,"v":-0.16},{"r":"Y1","t":7921,"v":0.20},{"r":"Y1","t":8300,"v":-0.30},{"r":"Y1","t":8700,"v":-0.70},{"r":"Y1","t":9100,"v":-0.40},{"r":"Y1","t":9500,"v":-0.90},{"r":"Y1","t":9900,"v":-0.60},{"r":"Y1","t":10300,"v":-0.20},{"r":"Y1","t":10700,"v":0.30},{"r":"Y1","t":11000,"v":0.60},{"r":"Y1","t":11300,"v":0.20},{"r":"Y1","t":11700,"v":-0.60},{"r":"Y1","t":12100,"v":-1.00},{"r":"Y1","t":12500,"v":-0.80},{"r":"Y1","t":12900,"v":-0.60},{"r":"Y1","t":13300,"v":-0.50},{"r":"Y1","t":13700,"v":-0.65},{"r":"Y1","t":14100,"v":-0.40},{"r":"Y1","t":14500,"v":-0.30},{"r":"Y1","t":14900,"v":-0.25},{"r":"Y1","t":15300,"v":-0.20},{"r":"Y1","t":15700,"v":-0.25},{"r":"Y1","t":16100,"v":-0.30},{"r":"Y1","t":16500,"v":-0.35},{"r":"Y1","t":16900,"v":-0.30},{"r":"Y1","t":17300,"v":-0.35},{"r":"Y1","t":17700,"v":-0.30},{"r":"Y1","t":18100,"v":-0.25},{"r":"Y1","t":18500,"v":-0.30},{"r":"Y1","t":18810,"v":-0.30},{"r":"Y1","t":19200,"v":-0.40},{"r":"Y1","t":19500,"v":-0.40},{"r":"Y1","t":19680,"v":-0.57},{"r":"Y1","t":19856,"v":-1.06},{"r":"Y1","t":20030,"v":-0.90},

{"r":"K1","t":0,"v":0.81},{"r":"K1","t":200,"v":0.62},{"r":"K1","t":315,"v":1.14},{"r":"K1","t":485,"v":1.46},{"r":"K1","t":620,"v":1.49},{"r":"K1","t":800,"v":1.60},{"r":"K1","t":998,"v":1.84},{"r":"K1","t":1241,"v":2.03},{"r":"K1","t":1558,"v":1.78},{"r":"K1","t":1778,"v":2.14},{"r":"K1","t":2035,"v":2.54},{"r":"K1","t":2273,"v":2.78},{"r":"K1","t":2500,"v":2.85},{"r":"K1","t":2692,"v":2.92},{"r":"K1","t":2901,"v":2.54},{"r":"K1","t":3200,"v":2.85},{"r":"K1","t":3459,"v":3.14},{"r":"K1","t":3700,"v":3.00},{"r":"K1","t":4017,"v":2.97},{"r":"K1","t":4296,"v":2.97},{"r":"K1","t":4575,"v":2.85},{"r":"K1","t":4854,"v":2.81},{"r":"K1","t":5100,"v":2.75},{"r":"K1","t":5272,"v":2.65},{"r":"K1","t":5481,"v":2.51},{"r":"K1","t":5700,"v":2.30},{"r":"K1","t":5900,"v":1.90},{"r":"K1","t":6100,"v":1.75},{"r":"K1","t":6300,"v":1.60},{"r":"K1","t":6500,"v":1.60},{"r":"K1","t":6806,"v":1.59},{"r":"K1","t":7000,"v":1.00},{"r":"K1","t":7293,"v":0.43},{"r":"K1","t":7572,"v":0.11},{"r":"K1","t":7641,"v":0.05},{"r":"K1","t":7782,"v":1.16},{"r":"K1","t":7921,"v":-0.16},{"r":"K1","t":8100,"v":-0.60},{"r":"K1","t":8350,"v":-1.06},{"r":"K1","t":8700,"v":-0.80},{"r":"K1","t":9000,"v":-1.20},{"r":"K1","t":9300,"v":-0.70},{"r":"K1","t":9600,"v":-1.00},{"r":"K1","t":9900,"v":-0.40},{"r":"K1","t":10200,"v":-0.80},{"r":"K1","t":10500,"v":-0.30},{"r":"K1","t":10800,"v":-0.60},{"r":"K1","t":11100,"v":0.10},{"r":"K1","t":11400,"v":0.30},{"r":"K1","t":11660,"v":0.57},{"r":"K1","t":11900,"v":0.20},{"r":"K1","t":12190,"v":0.62},{"r":"K1","t":12500,"v":-0.30},{"r":"K1","t":12880,"v":-1.17},{"r":"K1","t":13100,"v":-1.00},{"r":"K1","t":13400,"v":-1.40},{"r":"K1","t":13700,"v":-1.10},{"r":"K1","t":14100,"v":-0.95},{"r":"K1","t":14500,"v":-0.80},{"r":"K1","t":14970,"v":-0.60},{"r":"K1","t":15300,"v":-0.40},{"r":"K1","t":15700,"v":-0.20},{"r":"K1","t":16100,"v":-0.15},{"r":"K1","t":16500,"v":-0.05},{"r":"K1","t":16900,"v":-0.10},{"r":"K1","t":17300,"v":0.00},{"r":"K1","t":17700,"v":-0.05},{"r":"K1","t":18100,"v":0.00},{"r":"K1","t":18500,"v":-0.10},{"r":"K1","t":18900,"v":0.00},{"r":"K1","t":19300,"v":-0.05},{"r":"K1","t":19600,"v":0.05},{"r":"K1","t":19856,"v":0.08},{"r":"K1","t":20100,"v":-0.20},{"r":"K1","t":20380,"v":-0.68},{"r":"K1","t":20650,"v":-0.55},{"r":"K1","t":20900,"v":-1.06},{"r":"K1","t":21200,"v":-1.30},{"r":"K1","t":21510,"v":-1.71},{"r":"K1","t":21700,"v":-1.40},{"r":"K1","t":21860,"v":-1.28},{"r":"K1","t":21950,"v":-1.82},

{"r":"B2","t":0,"v":0.57},{"r":"B2","t":200,"v":0.54},{"r":"B2","t":412,"v":0.30},{"r":"B2","t":750,"v":0.78},{"r":"B2","t":1046,"v":1.03},{"r":"B2","t":1241,"v":0.86},{"r":"B2","t":1460,"v":1.00},{"r":"B2","t":1706,"v":1.36},{"r":"B2","t":2096,"v":1.65},{"r":"B2","t":2291,"v":1.61},{"r":"B2","t":2511,"v":1.65},{"r":"B2","t":2816,"v":1.68},{"r":"B2","t":3200,"v":1.85},{"r":"B2","t":3600,"v":2.00},{"r":"B2","t":4000,"v":2.05},{"r":"B2","t":4400,"v":1.95},{"r":"B2","t":4800,"v":1.75},{"r":"B2","t":5000,"v":1.70},{"r":"B2","t":5300,"v":2.00},{"r":"B2","t":5500,"v":2.10},{"r":"B2","t":5900,"v":1.90},{"r":"B2","t":6300,"v":1.70},{"r":"B2","t":6500,"v":1.20},{"r":"B2","t":6700,"v":0.60},{"r":"B2","t":6900,"v":0.20},{"r":"B2","t":7100,"v":0.05},{"r":"B2","t":7500,"v":-0.40},{"r":"B2","t":7900,"v":-0.20},{"r":"B2","t":8300,"v":-0.70},{"r":"B2","t":8700,"v":-0.40},{"r":"B2","t":9100,"v":-0.90},{"r":"B2","t":9500,"v":-0.50},{"r":"B2","t":9900,"v":-0.20},{"r":"B2","t":10200,"v":0.60},{"r":"B2","t":10530,"v":1.20},{"r":"B2","t":10800,"v":0.40},{"r":"B2","t":11100,"v":-0.30},{"r":"B2","t":11400,"v":-0.80},{"r":"B2","t":11700,"v":-1.10},{"r":"B2","t":12000,"v":-0.70},{"r":"B2","t":12300,"v":-1.00},{"r":"B2","t":12600,"v":-1.40},{"r":"B2","t":12900,"v":-1.10},{"r":"B2","t":13200,"v":-0.80},{"r":"B2","t":13500,"v":-0.60},{"r":"B2","t":13800,"v":-0.75},{"r":"B2","t":14100,"v":-0.50},{"r":"B2","t":14400,"v":-0.40},{"r":"B2","t":14700,"v":-0.30},{"r":"B2","t":15000,"v":-0.35},{"r":"B2","t":15400,"v":-0.25},{"r":"B2","t":15800,"v":-0.30},{"r":"B2","t":16200,"v":-0.20},{"r":"B2","t":16600,"v":-0.30},{"r":"B2","t":17000,"v":-0.50},{"r":"B2","t":17410,"v":-0.30},{"r":"B2","t":17700,"v":-0.60},{"r":"B2","t":17900,"v":-0.90},{"r":"B2","t":18100,"v":-1.30},

{"r":"G2","t":0,"v":0.38},{"r":"G2","t":22,"v":0.59},{"r":"G2","t":46,"v":0.27},{"r":"G2","t":71,"v":0.54},{"r":"G2","t":95,"v":0.65},{"r":"G2","t":132,"v":0.76},{"r":"G2","t":156,"v":0.54},{"r":"G2","t":193,"v":0.65},{"r":"G2","t":217,"v":0.46},{"r":"G2","t":241,"v":0.76},{"r":"G2","t":266,"v":0.86},{"r":"G2","t":302,"v":0.65},{"r":"G2","t":327,"v":0.86},{"r":"G2","t":363,"v":0.81},{"r":"G2","t":388,"v":0.92},{"r":"G2","t":424,"v":0.70},{"r":"G2","t":449,"v":0.81},{"r":"G2","t":473,"v":0.97},{"r":"G2","t":498,"v":0.65},{"r":"G2","t":534,"v":0.78},{"r":"G2","t":571,"v":1.08},{"r":"G2","t":607,"v":0.86},{"r":"G2","t":632,"v":1.19},{"r":"G2","t":656,"v":1.08},{"r":"G2","t":680,"v":1.30},{"r":"G2","t":705,"v":1.16},{"r":"G2","t":729,"v":1.41},{"r":"G2","t":754,"v":1.30},{"r":"G2","t":790,"v":1.51},{"r":"G2","t":827,"v":1.41},{"r":"G2","t":863,"v":1.62},{"r":"G2","t":888,"v":1.46},{"r":"G2","t":924,"v":1.73},{"r":"G2","t":949,"v":1.57},{"r":"G2","t":985,"v":1.78},{"r":"G2","t":1010,"v":1.62},{"r":"G2","t":1046,"v":1.89},{"r":"G2","t":1095,"v":1.73},{"r":"G2","t":1132,"v":1.84},{"r":"G2","t":1168,"v":1.68},{"r":"G2","t":1217,"v":1.95},{"r":"G2","t":1266,"v":1.84},{"r":"G2","t":1320,"v":2.00},{"r":"G2","t":1380,"v":1.75},{"r":"G2","t":1440,"v":2.05},{"r":"G2","t":1500,"v":1.80},{"r":"G2","t":1560,"v":1.95},{"r":"G2","t":1620,"v":1.70},{"r":"G2","t":1680,"v":1.90},{"r":"G2","t":1755,"v":1.57},{"r":"G2","t":1791,"v":1.95},{"r":"G2","t":1828,"v":1.63},{"r":"G2","t":1865,"v":1.84},{"r":"G2","t":1901,"v":1.57},{"r":"G2","t":1950,"v":1.68},
{"r":"G2","t":2070,"v":2.05},{"r":"G2","t":2190,"v":1.70},{"r":"G2","t":2310,"v":2.15},{"r":"G2","t":2430,"v":1.80},{"r":"G2","t":2550,"v":2.25},{"r":"G2","t":2670,"v":1.85},{"r":"G2","t":2790,"v":2.20},{"r":"G2","t":2910,"v":1.75},{"r":"G2","t":3030,"v":2.10},{"r":"G2","t":3150,"v":1.90},{"r":"G2","t":3270,"v":2.35},{"r":"G2","t":3390,"v":1.85},{"r":"G2","t":3510,"v":2.20},{"r":"G2","t":3630,"v":1.80},{"r":"G2","t":3750,"v":2.30},{"r":"G2","t":3870,"v":1.95},{"r":"G2","t":3990,"v":2.40},{"r":"G2","t":4110,"v":2.00},{"r":"G2","t":4230,"v":2.45},{"r":"G2","t":4330,"v":1.46},{"r":"G2","t":4450,"v":2.30},{"r":"G2","t":4570,"v":1.95},{"r":"G2","t":4690,"v":2.40},{"r":"G2","t":4810,"v":2.05},{"r":"G2","t":4930,"v":2.35},{"r":"G2","t":5050,"v":1.90},{"r":"G2","t":5170,"v":2.25},{"r":"G2","t":5290,"v":1.80},{"r":"G2","t":5410,"v":2.10},{"r":"G2","t":5530,"v":1.65},{"r":"G2","t":5650,"v":1.90},{"r":"G2","t":5770,"v":1.40},{"r":"G2","t":5890,"v":1.55},{"r":"G2","t":6010,"v":1.10},{"r":"G2","t":6130,"v":1.30},{"r":"G2","t":6250,"v":0.85},{"r":"G2","t":6370,"v":1.00},{"r":"G2","t":6490,"v":0.60},{"r":"G2","t":6610,"v":0.80},{"r":"G2","t":6730,"v":0.45},{"r":"G2","t":6850,"v":0.65},{"r":"G2","t":6970,"v":0.35},{"r":"G2","t":7090,"v":0.55},{"r":"G2","t":7200,"v":0.40},
{"r":"G2","t":7500,"v":-0.10},{"r":"G2","t":7800,"v":-0.50},{"r":"G2","t":8100,"v":-0.20},{"r":"G2","t":8400,"v":-0.80},{"r":"G2","t":8700,"v":-0.40},{"r":"G2","t":9000,"v":-1.00},{"r":"G2","t":9300,"v":-0.60},{"r":"G2","t":9600,"v":-1.30},{"r":"G2","t":9900,"v":-0.90},{"r":"G2","t":10200,"v":-1.70},{"r":"G2","t":10500,"v":-1.20},{"r":"G2","t":10800,"v":-2.00},{"r":"G2","t":11100,"v":-1.40},{"r":"G2","t":11400,"v":-1.80},{"r":"G2","t":11700,"v":-1.10},{"r":"G2","t":12000,"v":-1.40},{"r":"G2","t":12300,"v":-0.80},{"r":"G2","t":12600,"v":-1.00},{"r":"G2","t":12900,"v":-0.60},{"r":"G2","t":13200,"v":-0.80},{"r":"G2","t":13500,"v":-0.45},{"r":"G2","t":13800,"v":-0.60},{"r":"G2","t":14100,"v":-0.35},{"r":"G2","t":14400,"v":-0.50},{"r":"G2","t":14700,"v":-0.30},{"r":"G2","t":15000,"v":-0.40},{"r":"G2","t":15300,"v":-0.25},{"r":"G2","t":15600,"v":-0.35},{"r":"G2","t":15900,"v":-0.20},{"r":"G2","t":16200,"v":-0.30},{"r":"G2","t":16500,"v":-0.15},{"r":"G2","t":16800,"v":-0.30},{"r":"G2","t":17100,"v":-0.45},{"r":"G2","t":17400,"v":-0.60},{"r":"G2","t":17700,"v":-0.90},{"r":"G2","t":18000,"v":-1.10},{"r":"G2","t":18300,"v":-1.50},{"r":"G2","t":18600,"v":-1.30},{"r":"G2","t":19000,"v":-1.60},

{"r":"C2","t":0,"v":1.24},{"r":"C2","t":200,"v":0.86},{"r":"C2","t":412,"v":0.84},{"r":"C2","t":750,"v":1.30},{"r":"C2","t":1000,"v":1.38},{"r":"C2","t":1250,"v":1.40},{"r":"C2","t":1460,"v":1.70},{"r":"C2","t":1650,"v":1.80},{"r":"C2","t":1870,"v":1.84},{"r":"C2","t":2100,"v":1.95},{"r":"C2","t":2400,"v":2.15},{"r":"C2","t":2700,"v":2.35},{"r":"C2","t":3000,"v":2.50},{"r":"C2","t":3300,"v":2.75},{"r":"C2","t":3600,"v":2.85},{"r":"C2","t":3900,"v":2.95},{"r":"C2","t":4200,"v":2.85},{"r":"C2","t":4500,"v":2.95},{"r":"C2","t":4800,"v":2.80},{"r":"C2","t":5000,"v":2.85},{"r":"C2","t":5300,"v":2.60},{"r":"C2","t":5600,"v":1.90},{"r":"C2","t":5900,"v":1.20},{"r":"C2","t":6150,"v":0.60},{"r":"C2","t":6350,"v":0.35},{"r":"C2","t":6527,"v":0.10},{"r":"C2","t":6750,"v":0.20},{"r":"C2","t":6944,"v":0.05},{"r":"C2","t":7300,"v":-0.40},{"r":"C2","t":7700,"v":-0.80},{"r":"C2","t":8100,"v":-0.60},{"r":"C2","t":8500,"v":-1.10},{"r":"C2","t":8900,"v":-0.80},{"r":"C2","t":9300,"v":-1.30},{"r":"C2","t":9700,"v":-1.00},{"r":"C2","t":10100,"v":-0.70},{"r":"C2","t":10500,"v":-1.00},{"r":"C2","t":10900,"v":-0.75},{"r":"C2","t":11300,"v":-0.95},{"r":"C2","t":11700,"v":-0.65},{"r":"C2","t":12100,"v":-0.80},{"r":"C2","t":12500,"v":-0.55},{"r":"C2","t":12900,"v":-0.70},{"r":"C2","t":13300,"v":-0.50},{"r":"C2","t":13700,"v":-0.60},{"r":"C2","t":14100,"v":-0.45},{"r":"C2","t":14500,"v":-0.55},{"r":"C2","t":14900,"v":-0.40},{"r":"C2","t":15300,"v":-0.50},{"r":"C2","t":15700,"v":-0.45},{"r":"C2","t":16190,"v":-0.52},{"r":"C2","t":16500,"v":-1.20},{"r":"C2","t":16890,"v":-2.26},

{"r":"M2","t":0,"v":1.46},{"r":"M2","t":300,"v":1.44},{"r":"M2","t":550,"v":1.35},{"r":"M2","t":700,"v":1.10},{"r":"M2","t":800,"v":0.92},{"r":"M2","t":1000,"v":0.86},{"r":"M2","t":1240,"v":0.95},{"r":"M2","t":1460,"v":1.00},{"r":"M2","t":1706,"v":1.25},{"r":"M2","t":2072,"v":1.17},{"r":"M2","t":2316,"v":1.28},{"r":"M2","t":2511,"v":1.41},{"r":"M2","t":2718,"v":1.68},{"r":"M2","t":2925,"v":1.81},{"r":"M2","t":3300,"v":1.95},{"r":"M2","t":3700,"v":2.10},{"r":"M2","t":4100,"v":2.30},{"r":"M2","t":4500,"v":2.50},{"r":"M2","t":4854,"v":2.60},{"r":"M2","t":5100,"v":2.70},{"r":"M2","t":5300,"v":2.80},{"r":"M2","t":5500,"v":2.75},{"r":"M2","t":5700,"v":2.40},{"r":"M2","t":5900,"v":1.90},{"r":"M2","t":6100,"v":1.50},{"r":"M2","t":6300,"v":1.30},{"r":"M2","t":6500,"v":1.00},{"r":"M2","t":6700,"v":0.70},{"r":"M2","t":6900,"v":0.40},{"r":"M2","t":7000,"v":0.30},{"r":"M2","t":7400,"v":-0.20},{"r":"M2","t":7800,"v":-0.50},{"r":"M2","t":8200,"v":-0.30},{"r":"M2","t":8600,"v":-0.80},{"r":"M2","t":9000,"v":-0.50},{"r":"M2","t":9400,"v":-1.00},{"r":"M2","t":9800,"v":-0.70},{"r":"M2","t":10200,"v":-1.20},{"r":"M2","t":10600,"v":-0.90},{"r":"M2","t":11000,"v":-1.30},{"r":"M2","t":11400,"v":-0.80},{"r":"M2","t":11800,"v":-1.00},{"r":"M2","t":12200,"v":-0.60},{"r":"M2","t":12600,"v":-0.80},{"r":"M2","t":13000,"v":-0.50},{"r":"M2","t":13400,"v":-0.70},{"r":"M2","t":13800,"v":-0.40},{"r":"M2","t":14200,"v":-0.55},{"r":"M2","t":14600,"v":-0.35},{"r":"M2","t":15000,"v":-0.40},{"r":"M2","t":15300,"v":-0.30},{"r":"M2","t":15670,"v":-0.41},{"r":"M2","t":16190,"v":-0.95},{"r":"M2","t":16500,"v":-1.40},{"r":"M2","t":16890,"v":-1.82},

{"r":"Y2","t":0,"v":0.80},{"r":"Y2","t":200,"v":0.99},{"r":"Y2","t":412,"v":0.92},{"r":"Y2","t":620,"v":1.10},{"r":"Y2","t":800,"v":1.30},{"r":"Y2","t":1000,"v":1.60},{"r":"Y2","t":1240,"v":1.95},{"r":"Y2","t":1460,"v":2.25},{"r":"Y2","t":1650,"v":2.40},{"r":"Y2","t":1778,"v":2.45},{"r":"Y2","t":1877,"v":2.55},{"r":"Y2","t":2099,"v":2.30},{"r":"Y2","t":2300,"v":2.40},{"r":"Y2","t":2552,"v":2.20},{"r":"Y2","t":2936,"v":1.84},{"r":"Y2","t":3300,"v":1.65},{"r":"Y2","t":3738,"v":1.68},{"r":"Y2","t":4150,"v":1.84},{"r":"Y2","t":4575,"v":1.84},{"r":"Y2","t":4900,"v":2.00},{"r":"Y2","t":5100,"v":2.20},{"r":"Y2","t":5272,"v":2.30},{"r":"Y2","t":5481,"v":2.00},{"r":"Y2","t":5690,"v":1.60},{"r":"Y2","t":5900,"v":1.00},{"r":"Y2","t":5969,"v":0.97},{"r":"Y2","t":6300,"v":0.40},{"r":"Y2","t":6700,"v":-0.10},{"r":"Y2","t":7100,"v":-0.50},{"r":"Y2","t":7500,"v":-0.30},{"r":"Y2","t":7900,"v":-0.80},{"r":"Y2","t":8300,"v":-0.60},{"r":"Y2","t":8700,"v":-1.10},{"r":"Y2","t":9100,"v":-0.80},{"r":"Y2","t":9500,"v":-0.50},{"r":"Y2","t":9900,"v":-0.90},{"r":"Y2","t":10300,"v":-0.60},{"r":"Y2","t":10700,"v":-1.00},{"r":"Y2","t":11100,"v":-0.70},{"r":"Y2","t":11500,"v":-0.40},{"r":"Y2","t":11900,"v":-0.70},{"r":"Y2","t":12300,"v":-1.20},{"r":"Y2","t":12700,"v":-1.00},{"r":"Y2","t":13100,"v":-1.50},{"r":"Y2","t":13500,"v":-1.20},{"r":"Y2","t":13900,"v":-0.80},{"r":"Y2","t":14300,"v":-0.60},{"r":"Y2","t":14700,"v":-0.50},{"r":"Y2","t":15000,"v":-0.60},{"r":"Y2","t":15323,"v":-0.84},{"r":"Y2","t":15700,"v":-1.20},{"r":"Y2","t":16020,"v":-1.60},{"r":"Y2","t":16370,"v":-2.04},{"r":"Y2","t":16800,"v":-2.47},{"r":"Y2","t":17150,"v":-3.20},{"r":"Y2","t":17500,"v":-1.60},{"r":"Y2","t":17800,"v":-2.20},{"r":"Y2","t":18030,"v":-2.80},{"r":"Y2","t":18200,"v":-3.10},{"r":"Y2","t":18500,"v":-2.70},{"r":"Y2","t":18810,"v":-2.40},

{"r":"K2","t":0,"v":0.73},{"r":"K2","t":200,"v":0.62},{"r":"K2","t":412,"v":0.85},{"r":"K2","t":620,"v":1.24},{"r":"K2","t":827,"v":1.30},{"r":"K2","t":1241,"v":1.68},{"r":"K2","t":1460,"v":1.63},{"r":"K2","t":1680,"v":1.68},{"r":"K2","t":1778,"v":1.57},{"r":"K2","t":1889,"v":1.40},{"r":"K2","t":2096,"v":1.65},{"r":"K2","t":2304,"v":1.72},{"r":"K2","t":2600,"v":1.70},{"r":"K2","t":2901,"v":1.78},{"r":"K2","t":3200,"v":1.85},{"r":"K2","t":3459,"v":1.95},{"r":"K2","t":3750,"v":2.00},{"r":"K2","t":4017,"v":2.08},{"r":"K2","t":4226,"v":1.89},{"r":"K2","t":4575,"v":2.03},{"r":"K2","t":4854,"v":2.22},{"r":"K2","t":5100,"v":2.00},{"r":"K2","t":5300,"v":1.90},{"r":"K2","t":5551,"v":1.76},{"r":"K2","t":5800,"v":1.75},{"r":"K2","t":6100,"v":1.65},{"r":"K2","t":6400,"v":1.55},{"r":"K2","t":6600,"v":1.45},{"r":"K2","t":6806,"v":1.25},{"r":"K2","t":7000,"v":0.90},{"r":"K2","t":7200,"v":0.55},{"r":"K2","t":7400,"v":0.30},{"r":"K2","t":7572,"v":0.11},{"r":"K2","t":7900,"v":-0.30},{"r":"K2","t":8200,"v":-0.80},{"r":"K2","t":8500,"v":-0.50},{"r":"K2","t":8800,"v":-1.00},{"r":"K2","t":9100,"v":-0.60},{"r":"K2","t":9400,"v":-0.90},{"r":"K2","t":9700,"v":-0.50},{"r":"K2","t":10000,"v":-0.80},{"r":"K2","t":10300,"v":-0.40},{"r":"K2","t":10600,"v":-0.70},{"r":"K2","t":10900,"v":-0.30},{"r":"K2","t":11200,"v":-0.50},{"r":"K2","t":11500,"v":-0.20},{"r":"K2","t":11800,"v":-0.45},{"r":"K2","t":12100,"v":-0.30},{"r":"K2","t":12400,"v":-0.55},{"r":"K2","t":12700,"v":-0.40},{"r":"K2","t":13000,"v":-0.60},{"r":"K2","t":13300,"v":-0.45},{"r":"K2","t":13600,"v":-0.55},{"r":"K2","t":13900,"v":-0.40},{"r":"K2","t":14200,"v":-0.50},{"r":"K2","t":14500,"v":-0.35},{"r":"K2","t":14800,"v":-0.45},{"r":"K2","t":15100,"v":-0.40},{"r":"K2","t":15400,"v":-0.30},{"r":"K2","t":15700,"v":-0.35},{"r":"K2","t":16000,"v":-0.25},{"r":"K2","t":16400,"v":-0.30},{"r":"K2","t":16800,"v":-0.25},{"r":"K2","t":17200,"v":-0.30},{"r":"K2","t":17600,"v":-0.25},{"r":"K2","t":18000,"v":-0.30},{"r":"K2","t":18300,"v":-0.40},{"r":"K2","t":18700,"v":-0.60},

{"r":"B3","t":0,"v":1.50},{"r":"B3","t":100,"v":1.73},{"r":"B3","t":200,"v":1.65},{"r":"B3","t":500,"v":1.45},{"r":"B3","t":800,"v":1.25},{"r":"B3","t":1040,"v":1.05},{"r":"B3","t":1240,"v":0.90},{"r":"B3","t":1460,"v":0.88},{"r":"B3","t":1706,"v":1.25},{"r":"B3","t":1950,"v":1.27},{"r":"B3","t":2194,"v":1.44},{"r":"B3","t":2413,"v":1.63},{"r":"B3","t":2511,"v":1.66},{"r":"B3","t":2718,"v":1.56},{"r":"B3","t":2925,"v":1.75},{"r":"B3","t":3300,"v":2.00},{"r":"B3","t":3700,"v":2.30},{"r":"B3","t":4100,"v":2.60},{"r":"B3","t":4500,"v":2.75},{"r":"B3","t":4900,"v":2.70},{"r":"B3","t":5272,"v":2.70},{"r":"B3","t":5690,"v":2.32},{"r":"B3","t":6074,"v":2.10},{"r":"B3","t":6300,"v":1.90},{"r":"B3","t":6457,"v":1.73},{"r":"B3","t":6736,"v":2.46},{"r":"B3","t":6945,"v":2.24},{"r":"B3","t":7293,"v":1.62},{"r":"B3","t":7537,"v":1.05},{"r":"B3","t":7747,"v":1.05},{"r":"B3","t":7955,"v":0.11},{"r":"B3","t":8060,"v":0.11},{"r":"B3","t":8400,"v":-0.30},{"r":"B3","t":8800,"v":-0.60},{"r":"B3","t":9200,"v":-0.40},{"r":"B3","t":9600,"v":-0.80},{"r":"B3","t":10000,"v":-0.50},{"r":"B3","t":10400,"v":-0.90},{"r":"B3","t":10800,"v":-0.60},{"r":"B3","t":11200,"v":-0.40},{"r":"B3","t":11600,"v":-0.70},{"r":"B3","t":12000,"v":-0.50},{"r":"B3","t":12400,"v":-0.60},{"r":"B3","t":12800,"v":-0.40},{"r":"B3","t":13200,"v":-0.50},{"r":"B3","t":13600,"v":-0.35},{"r":"B3","t":14000,"v":-0.45},{"r":"B3","t":14400,"v":-0.30},{"r":"B3","t":14800,"v":-0.40},{"r":"B3","t":15200,"v":-0.30},{"r":"B3","t":15600,"v":-0.35},{"r":"B3","t":16000,"v":-0.25},{"r":"B3","t":16400,"v":-0.30},{"r":"B3","t":16800,"v":-0.25},{"r":"B3","t":17200,"v":-0.30},{"r":"B3","t":17600,"v":-0.20},{"r":"B3","t":18000,"v":-0.30},{"r":"B3","t":18400,"v":-0.20},{"r":"B3","t":18800,"v":-0.25},{"r":"B3","t":19200,"v":-0.20},{"r":"B3","t":19600,"v":-0.25},{"r":"B3","t":20000,"v":-0.15},{"r":"B3","t":20400,"v":-0.20},{"r":"B3","t":20900,"v":-0.14},{"r":"B3","t":21250,"v":-0.30},{"r":"B3","t":21600,"v":-0.46},{"r":"B3","t":21950,"v":-1.06},{"r":"B3","t":22380,"v":-0.84},{"r":"B3","t":22560,"v":-2.20},{"r":"B3","t":22730,"v":-2.10},{"r":"B3","t":23000,"v":-2.36},{"r":"B3","t":23170,"v":-3.23},

{"r":"G3","t":0,"v":0.70},{"r":"G3","t":250,"v":0.85},{"r":"G3","t":500,"v":1.00},{"r":"G3","t":750,"v":1.25},{"r":"G3","t":1000,"v":1.45},{"r":"G3","t":1250,"v":1.60},{"r":"G3","t":1450,"v":1.90},{"r":"G3","t":1706,"v":2.13},{"r":"G3","t":1950,"v":2.19},{"r":"G3","t":1999,"v":2.32},{"r":"G3","t":2194,"v":2.39},{"r":"G3","t":2340,"v":2.50},{"r":"G3","t":2511,"v":2.45},{"r":"G3","t":2657,"v":2.72},{"r":"G3","t":2828,"v":2.90},{"r":"G3","t":2999,"v":2.99},{"r":"G3","t":3170,"v":2.95},{"r":"G3","t":3316,"v":3.00},{"r":"G3","t":3600,"v":2.90},{"r":"G3","t":4000,"v":2.85},{"r":"G3","t":4296,"v":3.10},{"r":"G3","t":4500,"v":2.90},{"r":"G3","t":4854,"v":2.70},{"r":"G3","t":5272,"v":2.50},{"r":"G3","t":5690,"v":2.30},{"r":"G3","t":6109,"v":2.32},{"r":"G3","t":6318,"v":1.70},{"r":"G3","t":6527,"v":1.45},{"r":"G3","t":6736,"v":0.65},{"r":"G3","t":6945,"v":0.60},{"r":"G3","t":7154,"v":0.40},{"r":"G3","t":7363,"v":0.03},{"r":"G3","t":7700,"v":-0.40},{"r":"G3","t":8000,"v":-0.80},{"r":"G3","t":8300,"v":-0.50},{"r":"G3","t":8600,"v":-1.10},{"r":"G3","t":8900,"v":-0.70},{"r":"G3","t":9200,"v":-0.30},{"r":"G3","t":9500,"v":0.20},{"r":"G3","t":9800,"v":-0.20},{"r":"G3","t":10100,"v":-0.70},{"r":"G3","t":10400,"v":-1.00},{"r":"G3","t":10700,"v":-1.50},{"r":"G3","t":11000,"v":-1.10},{"r":"G3","t":11300,"v":-1.60},{"r":"G3","t":11600,"v":-1.20},{"r":"G3","t":11900,"v":-0.80},{"r":"G3","t":12200,"v":-1.00},{"r":"G3","t":12500,"v":-0.60},{"r":"G3","t":12800,"v":-0.75},{"r":"G3","t":13100,"v":-0.50},{"r":"G3","t":13400,"v":-0.60},{"r":"G3","t":13700,"v":-0.40},{"r":"G3","t":14000,"v":-0.50},{"r":"G3","t":14300,"v":-0.30},{"r":"G3","t":14600,"v":-0.40},{"r":"G3","t":14900,"v":-0.20},{"r":"G3","t":15200,"v":-0.30},{"r":"G3","t":15500,"v":-0.15},{"r":"G3","t":15800,"v":-0.20},{"r":"G3","t":16100,"v":-0.10},{"r":"G3","t":16400,"v":-0.15},{"r":"G3","t":16800,"v":-0.05},{"r":"G3","t":17200,"v":-0.15},{"r":"G3","t":17600,"v":-0.25},{"r":"G3","t":18000,"v":-0.50},{"r":"G3","t":18400,"v":-0.80},{"r":"G3","t":18800,"v":-1.20},{"r":"G3","t":19100,"v":-1.50},

{"r":"C3","t":0,"v":0.22},{"r":"C3","t":200,"v":0.27},{"r":"C3","t":412,"v":0.43},{"r":"C3","t":620,"v":0.70},{"r":"C3","t":754,"v":1.16},{"r":"C3","t":1000,"v":1.35},{"r":"C3","t":1250,"v":1.40},{"r":"C3","t":1500,"v":1.45},{"r":"C3","t":1800,"v":1.80},{"r":"C3","t":2000,"v":1.95},{"r":"C3","t":2194,"v":2.13},{"r":"C3","t":2500,"v":2.30},{"r":"C3","t":2800,"v":2.50},{"r":"C3","t":3200,"v":2.90},{"r":"C3","t":3600,"v":3.00},{"r":"C3","t":4000,"v":2.90},{"r":"C3","t":4400,"v":2.80},{"r":"C3","t":4800,"v":2.50},{"r":"C3","t":5200,"v":2.20},{"r":"C3","t":5500,"v":1.60},{"r":"C3","t":5800,"v":0.90},{"r":"C3","t":6100,"v":0.30},{"r":"C3","t":6400,"v":-0.10},{"r":"C3","t":6800,"v":-0.60},{"r":"C3","t":7200,"v":-0.90},{"r":"C3","t":7600,"v":-0.70},{"r":"C3","t":8000,"v":-1.30},{"r":"C3","t":8400,"v":-1.00},{"r":"C3","t":8800,"v":-1.60},{"r":"C3","t":9200,"v":-1.20},{"r":"C3","t":9600,"v":-0.90},{"r":"C3","t":10000,"v":-1.30},{"r":"C3","t":10400,"v":-1.00},{"r":"C3","t":10800,"v":-0.80},{"r":"C3","t":11200,"v":-1.10},{"r":"C3","t":11600,"v":-0.70},{"r":"C3","t":12000,"v":-0.85},{"r":"C3","t":12400,"v":-0.60},{"r":"C3","t":12800,"v":-0.75},{"r":"C3","t":13200,"v":-0.55},{"r":"C3","t":13600,"v":-0.70},{"r":"C3","t":14000,"v":-0.50},{"r":"C3","t":14400,"v":-0.60},{"r":"C3","t":14800,"v":-0.45},{"r":"C3","t":15200,"v":-0.55},{"r":"C3","t":15600,"v":-0.70},{"r":"C3","t":15900,"v":-1.00},{"r":"C3","t":16200,"v":-1.40},{"r":"C3","t":16600,"v":-2.00},

{"r":"M3","t":0,"v":0.60},{"r":"M3","t":200,"v":0.62},{"r":"M3","t":412,"v":0.82},{"r":"M3","t":620,"v":1.08},{"r":"M3","t":830,"v":1.30},{"r":"M3","t":1000,"v":1.41},{"r":"M3","t":1300,"v":1.60},{"r":"M3","t":1500,"v":1.75},{"r":"M3","t":1706,"v":1.95},{"r":"M3","t":2100,"v":2.05},{"r":"M3","t":2511,"v":2.19},{"r":"M3","t":2718,"v":2.43},{"r":"M3","t":2930,"v":2.51},{"r":"M3","t":3300,"v":2.60},{"r":"M3","t":3700,"v":2.75},{"r":"M3","t":4100,"v":2.80},{"r":"M3","t":4500,"v":2.85},{"r":"M3","t":4854,"v":2.78},{"r":"M3","t":5272,"v":2.78},{"r":"M3","t":5690,"v":2.90},{"r":"M3","t":5900,"v":2.70},{"r":"M3","t":6109,"v":3.03},{"r":"M3","t":6318,"v":2.65},{"r":"M3","t":6527,"v":2.10},{"r":"M3","t":6736,"v":1.97},{"r":"M3","t":6876,"v":1.30},{"r":"M3","t":7084,"v":0.86},{"r":"M3","t":7503,"v":1.03},{"r":"M3","t":7747,"v":1.05},{"r":"M3","t":7921,"v":0.65},{"r":"M3","t":7990,"v":0.70},{"r":"M3","t":8400,"v":0.20},{"r":"M3","t":8800,"v":-0.30},{"r":"M3","t":9200,"v":0.10},{"r":"M3","t":9600,"v":-0.40},{"r":"M3","t":10000,"v":-0.10},{"r":"M3","t":10400,"v":-0.60},{"r":"M3","t":10800,"v":-0.30},{"r":"M3","t":11200,"v":-0.80},{"r":"M3","t":11600,"v":-0.50},{"r":"M3","t":12000,"v":-0.90},{"r":"M3","t":12400,"v":-0.60},{"r":"M3","t":12800,"v":-0.80},{"r":"M3","t":13200,"v":-0.50},{"r":"M3","t":13600,"v":-0.65},{"r":"M3","t":14000,"v":-0.40},{"r":"M3","t":14400,"v":-0.55},{"r":"M3","t":14800,"v":-0.45},{"r":"M3","t":15100,"v":-0.80},{"r":"M3","t":15400,"v":-1.20},

{"r":"G4","t":0,"v":1.00},{"r":"G4","t":250,"v":1.25},{"r":"G4","t":500,"v":1.45},{"r":"G4","t":750,"v":1.60},{"r":"G4","t":1000,"v":1.70},{"r":"G4","t":1240,"v":1.73},{"r":"G4","t":1460,"v":1.95},{"r":"G4","t":1706,"v":2.13},{"r":"G4","t":1852,"v":2.10},{"r":"G4","t":2023,"v":1.97},{"r":"G4","t":2291,"v":1.85},{"r":"G4","t":2511,"v":2.03},{"r":"G4","t":2706,"v":2.27},{"r":"G4","t":2925,"v":2.66},{"r":"G4","t":3145,"v":2.80},{"r":"G4","t":3340,"v":2.88},{"r":"G4","t":3700,"v":2.70},{"r":"G4","t":4000,"v":2.75},{"r":"G4","t":4400,"v":2.90},{"r":"G4","t":4854,"v":2.70},{"r":"G4","t":5100,"v":2.50},{"r":"G4","t":5400,"v":2.20},{"r":"G4","t":5700,"v":2.00},{"r":"G4","t":6000,"v":1.80},{"r":"G4","t":6300,"v":1.30},{"r":"G4","t":6600,"v":0.80},{"r":"G4","t":6900,"v":0.60},{"r":"G4","t":7200,"v":0.40},{"r":"G4","t":7500,"v":0.45},{"r":"G4","t":7850,"v":0.50},{"r":"G4","t":8200,"v":0.10},{"r":"G4","t":8500,"v":-0.40},{"r":"G4","t":8800,"v":-0.20},{"r":"G4","t":9100,"v":-0.70},{"r":"G4","t":9400,"v":-0.30},{"r":"G4","t":9700,"v":-0.90},{"r":"G4","t":10000,"v":-0.50},{"r":"G4","t":10300,"v":-1.10},{"r":"G4","t":10600,"v":-0.80},{"r":"G4","t":10900,"v":-1.30},{"r":"G4","t":11200,"v":-0.90},{"r":"G4","t":11500,"v":-1.20},{"r":"G4","t":11800,"v":-0.70},{"r":"G4","t":12100,"v":-0.90},{"r":"G4","t":12400,"v":-0.50},{"r":"G4","t":12700,"v":-0.70},{"r":"G4","t":13000,"v":-0.40},{"r":"G4","t":13300,"v":-0.55},{"r":"G4","t":13600,"v":-0.30},{"r":"G4","t":13900,"v":-0.45},{"r":"G4","t":14200,"v":-0.25},{"r":"G4","t":14500,"v":-0.35},{"r":"G4","t":14800,"v":-0.20},{"r":"G4","t":15100,"v":-0.25},{"r":"G4","t":15400,"v":-0.10},{"r":"G4","t":15700,"v":-0.15},{"r":"G4","t":16000,"v":-0.05},{"r":"G4","t":16370,"v":-0.10},{"r":"G4","t":16800,"v":-0.15},{"r":"G4","t":17200,"v":-0.20},{"r":"G4","t":17600,"v":-0.35},{"r":"G4","t":17800,"v":-0.60}
]
},
"spacing":15,
"vconcat":[
 {"hconcat":[
  {"title":{"text":"(a) Accelerometer Readings on Subsegment 3","orient":"bottom","frame":"bounds","font":"DejaVu Serif","fontSize":22.8,"dx":6,"offset":15},
   "vconcat":[{
    "title":{"text":"Reading on the 3−rd subseg","offset":2},
    "width":478,"height":308,
    "data":{"name":"runs"},
    "transform":[{"lookup":"r","from":{"data":{"name":"ends"},"key":"r","fields":["e3"]}},{"filter":"datum.t <= datum.e3"}],
    "mark":{"type":"line","strokeWidth":1.2,"clip":true},
    "encoding":{
     "x":{"field":"t","type":"quantitative","scale":{"domain":[0,3500],"nice":false,"zero":false},"axis":{"values":[0,500,1000,1500,2000,2500,3000,3500],"format":"d","title":"time elapsed (ms)"}},
     "y":{"field":"v","type":"quantitative","scale":{"domain":[-1,4],"nice":false,"zero":false},"axis":{"values":[-1,0,1,2,3,4],"format":"d","title":"Accelerometer reading in X axis"}},
     "color":{"field":"r","type":"nominal","legend":null,"scale":{"domain":["B1","B2","B3","G1","G2","G3","G4","R1","C1","C2","C3","M1","M2","M3","Y1","Y2","K1","K2"],"range":["#0000ff","#0000ff","#0000ff","#00ff00","#00ff00","#00ff00","#00ff00","#ff0000","#00ffff","#00ffff","#00ffff","#ff00ff","#ff00ff","#ff00ff","#ffff00","#ffff00","#000000","#000000"]}}
    }
   }]
  },
  {"title":{"text":"(b) Accelerometer Readings on Subsegment 6","orient":"bottom","frame":"bounds","font":"DejaVu Serif","fontSize":22.8,"dx":6,"offset":15},
   "vconcat":[{
    "title":{"text":"Reading on the 6−th subseg","offset":2},
    "width":478,"height":308,
    "data":{"name":"runs"},
    "transform":[{"lookup":"r","from":{"data":{"name":"ends"},"key":"r","fields":["e6"]}},{"filter":"datum.t <= datum.e6"}],
    "mark":{"type":"line","strokeWidth":1.2,"clip":true},
    "encoding":{
     "x":{"field":"t","type":"quantitative","scale":{"domain":[0,10000],"nice":false,"zero":false},"axis":{"values":[0,2000,4000,6000,8000,10000],"format":"d","title":"time elapsed (ms)"}},
     "y":{"field":"v","type":"quantitative","scale":{"domain":[-1,4],"nice":false,"zero":false},"axis":{"values":[-1,0,1,2,3,4],"format":"d","title":"Accelerometer reading in X axis"}},
     "color":{"field":"r","type":"nominal","legend":null,"scale":{"domain":["B1","B2","B3","G1","G2","G3","G4","R1","C1","C2","C3","M1","M2","M3","Y1","Y2","K1","K2"],"range":["#0000ff","#0000ff","#0000ff","#00ff00","#00ff00","#00ff00","#00ff00","#ff0000","#00ffff","#00ffff","#00ffff","#ff00ff","#ff00ff","#ff00ff","#ffff00","#ffff00","#000000","#000000"]}}
    }
   }]
  }
 ],"spacing":81},
 {"title":{"text":"(c) Accelerometer Readings on Subsegment 9","orient":"bottom","frame":"bounds","font":"DejaVu Serif","fontSize":22.8,"dx":6,"offset":8},
  "vconcat":[{
   "title":{"text":"Reading on the 9−th subseg","offset":2},
   "width":478,"height":308,
   "layer":[
    {"data":{"name":"runs"},
     "mark":{"type":"line","strokeWidth":1.2,"clip":true},
     "encoding":{
      "x":{"field":"t","type":"quantitative","title":"time elapsed (ms)","scale":{"domain":[0,25000],"nice":false,"zero":false},"axis":{"values":[0,5000,10000,15000,20000,25000],"labelExpr":"datum.value / 10000"}},
      "y":{"field":"v","type":"quantitative","title":"Accelerometer reading in X axis","scale":{"domain":[-6,4],"nice":false,"zero":false},"axis":{"values":[-6,-4,-2,0,2,4],"format":"d"}},
      "color":{"field":"r","type":"nominal","legend":null,"scale":{"domain":["B1","B2","B3","G1","G2","G3","G4","R1","C1","C2","C3","M1","M2","M3","Y1","Y2","K1","K2"],"range":["#0000ff","#0000ff","#0000ff","#00ff00","#00ff00","#00ff00","#00ff00","#ff0000","#00ffff","#00ffff","#00ffff","#ff00ff","#ff00ff","#ff00ff","#ffff00","#ffff00","#000000","#000000"]}}
     }
    },
    {"data":{"values":[{"s":"x 10"}]},
     "mark":{"type":"text","align":"right","baseline":"alphabetic","dx":-3,"dy":54,"fontSize":20,"font":"Liberation Sans","color":"#000000"},
     "encoding":{"x":{"datum":25000,"type":"quantitative","title":"time elapsed (ms)"},"y":{"datum":-6,"type":"quantitative","title":"Accelerometer reading in X axis"},"text":{"field":"s"}}
    },
    {"data":{"values":[{"s":"4"}]},
     "mark":{"type":"text","align":"left","baseline":"alphabetic","dx":-3,"dy":43,"fontSize":13,"font":"Liberation Sans","color":"#000000"},
     "encoding":{"x":{"datum":25000,"type":"quantitative","title":"time elapsed (ms)"},"y":{"datum":-6,"type":"quantitative","title":"Accelerometer reading in X axis"},"text":{"field":"s"}}
    }
   ]
  }]
 }
]
}
